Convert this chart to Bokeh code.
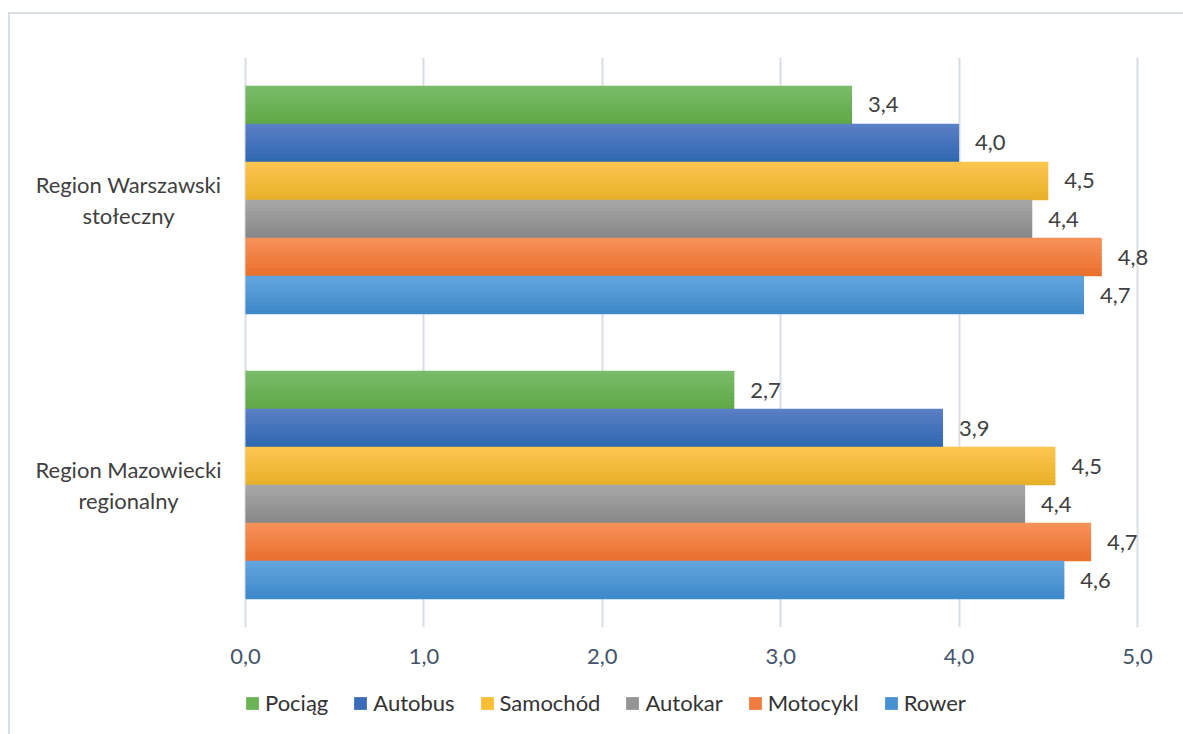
import numpy as np
from bokeh.plotting import figure
from bokeh.layouts import column
from bokeh.models import (ColumnDataSource, FactorRange, Range1d, FixedTicker,
                          Legend, LegendItem)
from bokeh.transform import dodge
from bokeh.core.properties import value
from bokeh.embed import file_html
from bokeh.resources import INLINE

# ---- data ----
series = ["Pociąg", "Autobus", "Samochód", "Autokar", "Motocykl", "Rower"]
regions = ["Region Warszawski stołeczny", "Region Mazowiecki regionalny"]
region_labels = ["Region Warszawski\nstołeczny", "Region Mazowiecki\nregionalny"]
warszawski = [3.40, 4.00, 4.50, 4.41, 4.80, 4.70]
mazowiecki = [2.74, 3.91, 4.54, 4.37, 4.74, 4.59]
x_ticks = [0, 1, 2, 3, 4, 5]
x_tick_labels = ["0,0", "1,0", "2,0", "3,0", "4,0", "5,0"]

# ---- style ----
top_colors = ["#7abc6a", "#5c80c6", "#fdc652", "#a8a8a8", "#f7925b", "#64a6de"]
bottom_colors = ["#5fa846", "#2d68b0", "#e8b028", "#878787", "#ea6f2c", "#3d88c8"]
legend_colors = ["#6cb356", "#3a6cb7", "#f9be33", "#959595", "#f07c3e", "#4891d0"]
FONT = "Lato"
FS = "22px"
GRID = "#d9dee4"

FW, FH = 1173, 570        # frame size
AXIS0 = 235               # frame x of value 0
PX_PER_UNIT = 178.4


def hex2rgb(h):
    h = h.lstrip("#")
    return np.array([int(h[i:i + 2], 16) for i in (0, 2, 4)], dtype=float)


def rgb2hex(c):
    return "#%02x%02x%02x" % tuple(int(round(v)) for v in c)


p = figure(frame_width=FW, frame_height=FH,
           y_range=FactorRange(factors=regions[::-1], range_padding=0),
           x_range=Range1d(-AXIS0 / PX_PER_UNIT, (FW - AXIS0) / PX_PER_UNIT),
           output_backend="svg", toolbar_location=None,
           min_border_left=0, min_border_right=0,
           min_border_top=43, min_border_bottom=60)
p.outline_line_color = None
p.background_fill_color = "white"
p.border_fill_color = "white"

n_series = len(series)
group_width = 0.8
bh = group_width / n_series
n_bands = 10

for i, s in enumerate(series):
    vals = [warszawski[i], mazowiecki[i]]
    src = ColumnDataSource(dict(
        region=regions,
        value=vals,
        label=[f"{v:.1f}".replace(".", ",") for v in vals],
    ))
    off = (n_series / 2 - 0.5 - i) * bh
    c_top = hex2rgb(top_colors[i])
    c_bot = hex2rgb(bottom_colors[i])
    for j in range(n_bands):
        t = (j + 0.5) / n_bands
        col = rgb2hex(c_top * (1 - t) + c_bot * t)
        boff = off + bh / 2 - (j + 0.5) * bh / n_bands
        p.hbar(y=dodge("region", boff, range=p.y_range), left=0, right="value",
               height=bh / n_bands * 1.15, source=src,
               fill_color=col, line_color=None)
    p.text(x="value", y=dodge("region", off, range=p.y_range), text="label",
           source=src, x_offset=16, text_baseline="middle", text_align="left",
           text_font=value(FONT), text_font_size=FS, text_color="#404040")

# category labels (left of the value axis)
cat_src = ColumnDataSource(dict(region=regions, label=region_labels,
                                zero=[0] * len(regions)))
p.text(x="zero", y="region", text="label", source=cat_src,
       x_offset=-117, text_align="center", text_baseline="middle",
       text_line_height=1.15,
       text_font=value(FONT), text_font_size=FS, text_color="#404040")

# axes
p.yaxis.visible = False
p.xaxis.ticker = FixedTicker(ticks=x_ticks)
p.xaxis.major_label_overrides = dict(zip(x_ticks, x_tick_labels))
p.xaxis.axis_line_color = None
p.xaxis.major_tick_line_color = None
p.xaxis.minor_tick_line_color = None
p.xaxis.major_label_text_font = FONT
p.xaxis.major_label_text_font_size = FS
p.xaxis.major_label_text_color = "#44546a"
p.xaxis.major_label_standoff = 15

p.xgrid.ticker = FixedTicker(ticks=x_ticks)
p.xgrid.grid_line_color = GRID
p.xgrid.grid_line_width = 2
p.ygrid.grid_line_color = None

# legend strip (separate small figure below the chart)
LH = 47
p2 = figure(frame_width=FW, frame_height=LH, output_backend="svg",
            x_range=Range1d(0, 1), y_range=Range1d(0, 1),
            toolbar_location=None, x_axis_location=None, y_axis_location=None,
            min_border_left=0, min_border_right=0, min_border_top=0,
            min_border_bottom=0)
p2.outline_line_color = None
p2.grid.visible = False
p2.border_fill_color = "white"
p2.background_fill_color = "white"
items = []
for i, s in enumerate(series):
    # legend proxy: a zero-width bar outside the (empty) view
    r = p2.hbar(y=[-5], left=[0], right=[0], height=0.1,
                fill_color=legend_colors[i], line_color=None)
    items.append(LegendItem(label=s, renderers=[r]))
legend = Legend(items=items, orientation="horizontal",
                location=(AXIS0 - 1, 18), padding=0, margin=0, spacing=24,
                glyph_width=16, glyph_height=16, label_standoff=5,
                label_text_font=FONT, label_text_font_size=FS,
                label_text_color="#333333", border_line_color=None,
                background_fill_alpha=0)
p2.add_layout(legend, "center")

layout = column(p, p2, spacing=0)
layout.margin = (12, 0, 0, 8)
layout.styles = {"border-left": f"2px solid {GRID}", "border-top": f"2px solid {GRID}"}

open("out.html", "w").write(file_html(layout, INLINE))
